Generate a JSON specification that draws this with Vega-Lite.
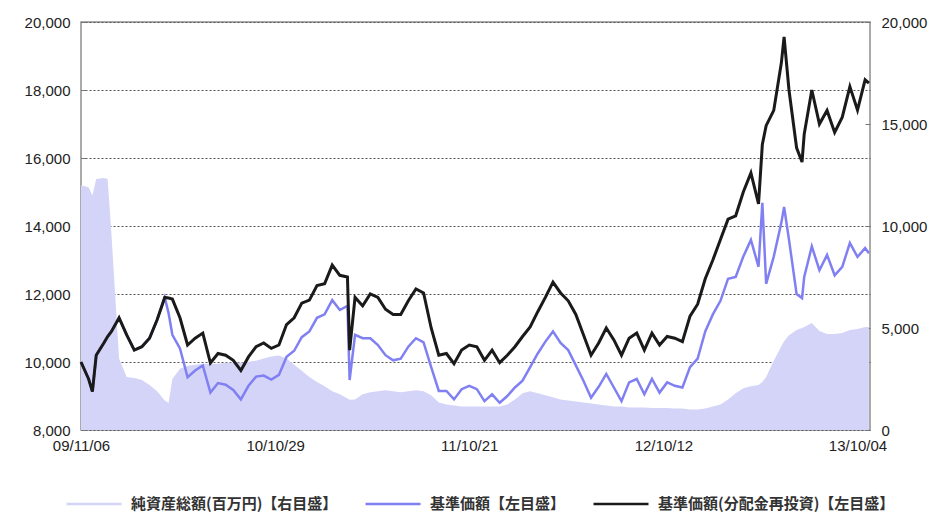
{
  "$schema": "https://vega.github.io/schema/vega-lite/v6.json",
  "width": 789,
  "height": 408,
  "autosize": {"type": "none"},
  "padding": {"left": 81, "top": 22, "right": 66, "bottom": 84},
  "background": "white",
  "config": {
    "view": {"stroke": "#8f8f8f", "strokeWidth": 1.5},
    "axis": {"labelFont": "Liberation Sans", "labelFontSize": 15, "labelColor": "#222", "domain": false, "title": null, "tickColor": "#777"}
  },
  "data": {
    "format": {"parse": {"d": "utc:'%Y-%m-%d'"}},
    "values": [
      {"d": "2009-11-06", "a": 12000, "n": 10000, "r": 10000},
      {"d": "2009-11-20", "a": 11900, "n": 9500, "r": 9500},
      {"d": "2009-11-27", "a": 11500, "n": 9130, "r": 9130},
      {"d": "2009-12-04", "a": 12300, "n": 10200, "r": 10200},
      {"d": "2009-12-18", "a": 12350, "n": 10560, "r": 10560},
      {"d": "2009-12-25", "a": 12300, "n": 10750, "r": 10750},
      {"d": "2010-01-01", "a": 9600, "n": 10900, "r": 10900},
      {"d": "2010-01-15", "a": 3500, "n": 11300, "r": 11300},
      {"d": "2010-01-29", "a": 2600, "n": 10800, "r": 10800},
      {"d": "2010-02-12", "a": 2550, "n": 10350, "r": 10350},
      {"d": "2010-02-26", "a": 2450, "n": 10450, "r": 10450},
      {"d": "2010-03-12", "a": 2200, "n": 10700, "r": 10700},
      {"d": "2010-03-26", "a": 1900, "n": 11240, "r": 11240},
      {"d": "2010-04-09", "a": 1450, "n": 11900, "r": 11900},
      {"d": "2010-04-16", "a": 1320, "n": 11440, "r": 11880},
      {"d": "2010-04-23", "a": 2500, "n": 10800, "r": 11850},
      {"d": "2010-05-07", "a": 3000, "n": 10400, "r": 11300},
      {"d": "2010-05-21", "a": 3150, "n": 9550, "r": 10500},
      {"d": "2010-06-04", "a": 3200, "n": 9750, "r": 10700},
      {"d": "2010-06-18", "a": 3250, "n": 9900, "r": 10850},
      {"d": "2010-07-02", "a": 3250, "n": 9100, "r": 9970},
      {"d": "2010-07-16", "a": 3250, "n": 9380, "r": 10250},
      {"d": "2010-07-30", "a": 3300, "n": 9330, "r": 10200},
      {"d": "2010-08-13", "a": 3300, "n": 9180, "r": 10050},
      {"d": "2010-08-27", "a": 3300, "n": 8900, "r": 9750},
      {"d": "2010-09-10", "a": 3350, "n": 9300, "r": 10150},
      {"d": "2010-09-24", "a": 3400, "n": 9570, "r": 10450},
      {"d": "2010-10-08", "a": 3500, "n": 9600, "r": 10560},
      {"d": "2010-10-22", "a": 3600, "n": 9480, "r": 10400},
      {"d": "2010-11-05", "a": 3650, "n": 9620, "r": 10500},
      {"d": "2010-11-19", "a": 3500, "n": 10150, "r": 11100},
      {"d": "2010-12-03", "a": 3200, "n": 10330, "r": 11300},
      {"d": "2010-12-17", "a": 2900, "n": 10730, "r": 11730},
      {"d": "2010-12-31", "a": 2600, "n": 10900, "r": 11820},
      {"d": "2011-01-14", "a": 2350, "n": 11300, "r": 12250},
      {"d": "2011-01-28", "a": 2150, "n": 11400, "r": 12300},
      {"d": "2011-02-11", "a": 1900, "n": 11820, "r": 12850},
      {"d": "2011-02-25", "a": 1750, "n": 11530, "r": 12550},
      {"d": "2011-03-11", "a": 1550, "n": 11650, "r": 12500},
      {"d": "2011-03-15", "a": 1480, "n": 9470, "r": 10350},
      {"d": "2011-03-25", "a": 1500, "n": 10800, "r": 11900},
      {"d": "2011-04-08", "a": 1750, "n": 10700, "r": 11650},
      {"d": "2011-04-22", "a": 1850, "n": 10700, "r": 12000},
      {"d": "2011-05-06", "a": 1900, "n": 10500, "r": 11900},
      {"d": "2011-05-20", "a": 1950, "n": 10200, "r": 11550},
      {"d": "2011-06-03", "a": 1900, "n": 10050, "r": 11400},
      {"d": "2011-06-17", "a": 1850, "n": 10100, "r": 11400},
      {"d": "2011-07-01", "a": 1900, "n": 10450, "r": 11800},
      {"d": "2011-07-15", "a": 1950, "n": 10700, "r": 12150},
      {"d": "2011-07-29", "a": 1900, "n": 10580, "r": 12030},
      {"d": "2011-08-12", "a": 1700, "n": 9850, "r": 11000},
      {"d": "2011-08-26", "a": 1350, "n": 9150, "r": 10200},
      {"d": "2011-09-09", "a": 1250, "n": 9150, "r": 10250},
      {"d": "2011-09-23", "a": 1200, "n": 8900, "r": 9950},
      {"d": "2011-10-07", "a": 1150, "n": 9200, "r": 10350},
      {"d": "2011-10-21", "a": 1150, "n": 9300, "r": 10500},
      {"d": "2011-11-04", "a": 1150, "n": 9200, "r": 10450},
      {"d": "2011-11-18", "a": 1150, "n": 8850, "r": 10050},
      {"d": "2011-12-02", "a": 1150, "n": 9050, "r": 10350},
      {"d": "2011-12-16", "a": 1150, "n": 8800, "r": 9980},
      {"d": "2011-12-30", "a": 1250, "n": 9000, "r": 10200},
      {"d": "2012-01-13", "a": 1500, "n": 9250, "r": 10450},
      {"d": "2012-01-27", "a": 1800, "n": 9450, "r": 10750},
      {"d": "2012-02-10", "a": 1900, "n": 9850, "r": 11030},
      {"d": "2012-02-24", "a": 1800, "n": 10250, "r": 11480},
      {"d": "2012-03-09", "a": 1700, "n": 10600, "r": 11900},
      {"d": "2012-03-23", "a": 1600, "n": 10900, "r": 12350},
      {"d": "2012-04-06", "a": 1500, "n": 10560, "r": 12030},
      {"d": "2012-04-20", "a": 1450, "n": 10350, "r": 11800},
      {"d": "2012-05-04", "a": 1400, "n": 9900, "r": 11400},
      {"d": "2012-05-18", "a": 1350, "n": 9450, "r": 10800},
      {"d": "2012-06-01", "a": 1300, "n": 8950, "r": 10200},
      {"d": "2012-06-15", "a": 1250, "n": 9270, "r": 10560},
      {"d": "2012-06-29", "a": 1200, "n": 9650, "r": 11000},
      {"d": "2012-07-13", "a": 1150, "n": 9250, "r": 10650},
      {"d": "2012-07-27", "a": 1150, "n": 8850, "r": 10200},
      {"d": "2012-08-10", "a": 1100, "n": 9400, "r": 10700},
      {"d": "2012-08-24", "a": 1100, "n": 9500, "r": 10850},
      {"d": "2012-09-07", "a": 1100, "n": 9050, "r": 10350},
      {"d": "2012-09-21", "a": 1080, "n": 9500, "r": 10850},
      {"d": "2012-10-05", "a": 1080, "n": 9100, "r": 10500},
      {"d": "2012-10-19", "a": 1080, "n": 9400, "r": 10750},
      {"d": "2012-11-02", "a": 1050, "n": 9300, "r": 10700},
      {"d": "2012-11-16", "a": 1050, "n": 9250, "r": 10600},
      {"d": "2012-11-30", "a": 1000, "n": 9850, "r": 11350},
      {"d": "2012-12-14", "a": 1000, "n": 10100, "r": 11700},
      {"d": "2012-12-28", "a": 1050, "n": 10900, "r": 12450},
      {"d": "2013-01-11", "a": 1150, "n": 11400, "r": 13000},
      {"d": "2013-01-25", "a": 1250, "n": 11800, "r": 13600},
      {"d": "2013-02-08", "a": 1500, "n": 12450, "r": 14200},
      {"d": "2013-02-22", "a": 1800, "n": 12500, "r": 14300},
      {"d": "2013-03-08", "a": 2050, "n": 13100, "r": 15000},
      {"d": "2013-03-22", "a": 2150, "n": 13590, "r": 15560},
      {"d": "2013-04-05", "a": 2200, "n": 12800, "r": 14650},
      {"d": "2013-04-12", "a": 2350, "n": 14680, "r": 16400},
      {"d": "2013-04-19", "a": 2600, "n": 12300, "r": 16950},
      {"d": "2013-05-03", "a": 3400, "n": 13100, "r": 17400},
      {"d": "2013-05-17", "a": 4100, "n": 14100, "r": 18800},
      {"d": "2013-05-22", "a": 4350, "n": 14560, "r": 19560},
      {"d": "2013-05-31", "a": 4650, "n": 13600, "r": 18000},
      {"d": "2013-06-14", "a": 4900, "n": 12000, "r": 16300},
      {"d": "2013-06-24", "a": 5000, "n": 11880, "r": 15880},
      {"d": "2013-06-28", "a": 5050, "n": 12500, "r": 16700},
      {"d": "2013-07-12", "a": 5250, "n": 13400, "r": 18000},
      {"d": "2013-07-26", "a": 4850, "n": 12700, "r": 17000},
      {"d": "2013-08-09", "a": 4700, "n": 13150, "r": 17400},
      {"d": "2013-08-23", "a": 4700, "n": 12550, "r": 16750},
      {"d": "2013-09-06", "a": 4750, "n": 12800, "r": 17200},
      {"d": "2013-09-20", "a": 4900, "n": 13500, "r": 18100},
      {"d": "2013-10-04", "a": 4950, "n": 13090, "r": 17410},
      {"d": "2013-10-18", "a": 5050, "n": 13350, "r": 18300},
      {"d": "2013-10-25", "a": 5050, "n": 13200, "r": 18200}
    ]
  },
  "encoding": {
    "x": {
      "field": "d",
      "type": "temporal",
      "scale": {"type": "utc", "domain": [{"year": 2009, "month": 11, "date": 6, "utc": true}, {"year": 2013, "month": 10, "date": 27, "utc": true}]},
      "axis": {
        "values": [
          {"year": 2009, "month": 11, "date": 6, "utc": true},
          {"year": 2010, "month": 10, "date": 29, "utc": true},
          {"year": 2011, "month": 10, "date": 21, "utc": true},
          {"year": 2012, "month": 10, "date": 12, "utc": true},
          {"year": 2013, "month": 10, "date": 4, "utc": true}
        ],
        "format": "%y/%m/%d",
        "labelPadding": 13,
        "tickSize": -5,
        "grid": false,
        "labelFlush": false,
        "labelOverlap": false
      }
    }
  },
  "layer": [
    {
      "mark": {"type": "area", "opacity": 1},
      "encoding": {
        "y": {
          "field": "a",
          "type": "quantitative",
          "scale": {"domain": [0, 20000], "nice": false},
          "axis": {"orient": "right", "values": [0, 5000, 10000, 15000, 20000], "format": ",d", "grid": false, "labelPadding": 16, "tickSize": -5}
        },
        "color": {
          "datum": "a",
          "type": "nominal",
          "scale": {"domain": ["a", "n", "r"], "range": ["#d4d4f8", "#8080f2", "#1a1a1a"]},
          "legend": {
            "orient": "none",
            "legendX": -16,
            "legendY": 453,
            "direction": "horizontal",
            "title": null,
            "symbolType": "stroke",
            "symbolSize": 3025,
            "symbolStrokeWidth": 2.5,
            "labelFont": "Noto Sans CJK JP",
            "labelFontSize": 15,
            "labelFontWeight": "bold",
            "labelColor": "#333",
            "labelOffset": 8,
            "columnPadding": 22,
            "labelLimit": 400,
            "labelExpr": "datum.value == 'a' ? '純資産総額(百万円)【右目盛】' : datum.value == 'n' ? '基準価額【左目盛】' : '基準価額(分配金再投資)【左目盛】'",
            "encode": {"symbols": {"update": {"stroke": {"scale": "color", "field": "value"}, "strokeWidth": {"signal": "datum.value == 'a' ? 6 : 2.5"}}}}
          }
        }
      }
    },
    {
      "layer": [
        {
          "mark": {"type": "line", "strokeWidth": 2.5},
          "encoding": {
            "y": {
              "field": "n",
              "type": "quantitative",
              "scale": {"domain": [8000, 20000], "nice": false},
              "axis": {"orient": "left", "values": [8000, 10000, 12000, 14000, 16000, 18000, 20000], "format": ",d", "grid": true, "gridDash": [2, 2], "gridColor": "#555", "gridWidth": 1, "labelPadding": 16, "tickSize": -5}
            },
            "color": {"datum": "n", "type": "nominal"}
          }
        },
        {
          "mark": {"type": "line", "strokeWidth": 3},
          "encoding": {
            "y": {
              "field": "r",
              "type": "quantitative",
              "scale": {"domain": [8000, 20000], "nice": false},
              "axis": {"orient": "left", "values": [8000, 10000, 12000, 14000, 16000, 18000, 20000], "format": ",d", "grid": true, "gridDash": [2, 2], "gridColor": "#555", "gridWidth": 1, "labelPadding": 16, "tickSize": -5}
            },
            "color": {"datum": "r", "type": "nominal"}
          }
        }
      ]
    }
  ],
  "resolve": {"scale": {"y": "independent"}}
}
